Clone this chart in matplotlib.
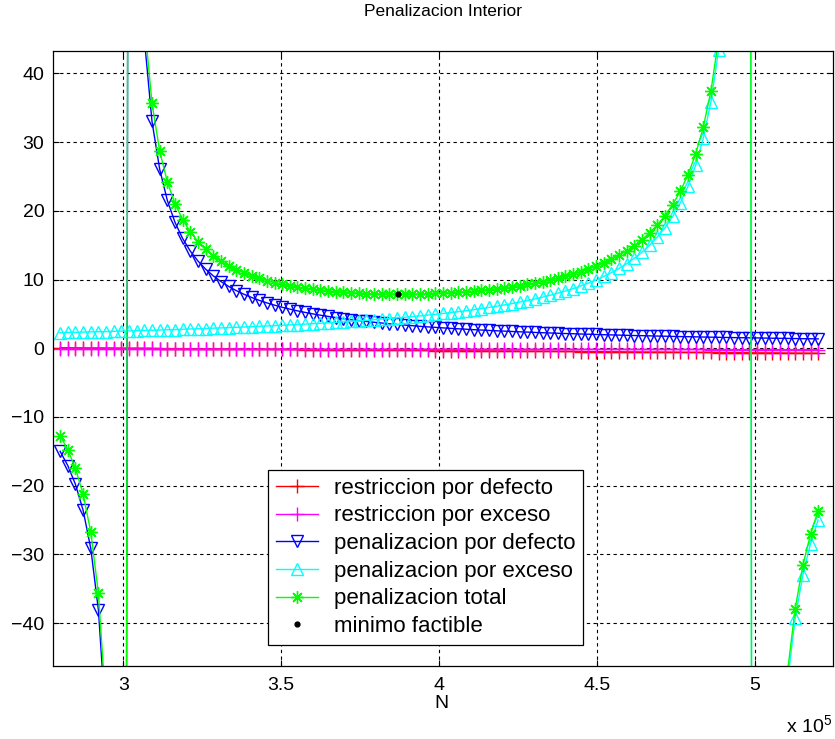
import matplotlib
matplotlib.use("Agg")
import matplotlib.pyplot as plt

plt.rcParams['font.family'] = ['Liberation Sans', 'DejaVu Sans']
plt.rcParams['mathtext.fontset'] = 'custom'
plt.rcParams['mathtext.rm'] = 'Liberation Sans'
plt.rcParams['mathtext.it'] = 'Liberation Sans'

# N in units of 1e5
N = [2.8000, 2.8242, 2.8485, 2.8727, 2.8970, 2.9212, 2.9455, 2.9697, 2.9939, 3.0182,
     3.0424, 3.0667, 3.0909, 3.1152, 3.1394, 3.1636, 3.1879, 3.2121, 3.2364, 3.2606,
     3.2848, 3.3091, 3.3333, 3.3576, 3.3818, 3.4061, 3.4303, 3.4545, 3.4788, 3.5030,
     3.5273, 3.5515, 3.5758, 3.6000, 3.6242, 3.6485, 3.6727, 3.6970, 3.7212, 3.7455,
     3.7697, 3.7939, 3.8182, 3.8424, 3.8667, 3.8909, 3.9152, 3.9394, 3.9636, 3.9879,
     4.0121, 4.0364, 4.0606, 4.0848, 4.1091, 4.1333, 4.1576, 4.1818, 4.2061, 4.2303,
     4.2545, 4.2788, 4.3030, 4.3273, 4.3515, 4.3758, 4.4000, 4.4242, 4.4485, 4.4727,
     4.4970, 4.5212, 4.5455, 4.5697, 4.5939, 4.6182, 4.6424, 4.6667, 4.6909, 4.7152,
     4.7394, 4.7636, 4.7879, 4.8121, 4.8364, 4.8606, 4.8848, 4.9091, 4.9333, 4.9576,
     4.9818, 5.0061, 5.0303, 5.0545, 5.0788, 5.1030, 5.1273, 5.1515, 5.1758, 5.2000]

restr_defecto = [0.07, 0.06, 0.05, 0.04, 0.03, 0.03, 0.02, 0.01, 0.00, -0.01,
                 -0.01, -0.02, -0.03, -0.04, -0.05, -0.05, -0.06, -0.07, -0.08, -0.09,
                 -0.09, -0.10, -0.11, -0.12, -0.13, -0.14, -0.14, -0.15, -0.16, -0.17,
                 -0.18, -0.18, -0.19, -0.20, -0.21, -0.22, -0.22, -0.23, -0.24, -0.25,
                 -0.26, -0.26, -0.27, -0.28, -0.29, -0.30, -0.31, -0.31, -0.32, -0.33,
                 -0.34, -0.35, -0.35, -0.36, -0.37, -0.38, -0.39, -0.39, -0.40, -0.41,
                 -0.42, -0.43, -0.43, -0.44, -0.45, -0.46, -0.47, -0.47, -0.48, -0.49,
                 -0.50, -0.51, -0.52, -0.52, -0.53, -0.54, -0.55, -0.56, -0.56, -0.57,
                 -0.58, -0.59, -0.60, -0.60, -0.61, -0.62, -0.63, -0.64, -0.64, -0.65,
                 -0.66, -0.67, -0.68, -0.68, -0.69, -0.70, -0.71, -0.72, -0.73, -0.73]

restr_exceso = [-0.10, -0.10, -0.10, -0.10, -0.10, -0.11, -0.11, -0.11, -0.11, -0.11,
                -0.11, -0.11, -0.11, -0.11, -0.11, -0.12, -0.12, -0.12, -0.12, -0.12,
                -0.12, -0.12, -0.12, -0.12, -0.12, -0.13, -0.13, -0.13, -0.13, -0.13,
                -0.13, -0.13, -0.13, -0.13, -0.13, -0.14, -0.14, -0.14, -0.14, -0.14,
                -0.14, -0.14, -0.14, -0.14, -0.14, -0.15, -0.15, -0.15, -0.15, -0.15,
                -0.15, -0.15, -0.15, -0.15, -0.15, -0.16, -0.16, -0.16, -0.16, -0.16,
                -0.16, -0.16, -0.16, -0.16, -0.16, -0.17, -0.17, -0.17, -0.17, -0.17,
                -0.17, -0.17, -0.17, -0.17, -0.17, -0.18, -0.18, -0.18, -0.18, -0.18,
                -0.18, -0.18, -0.18, -0.18, -0.18, -0.19, -0.19, -0.19, -0.19, -0.19,
                -0.19, -0.19, -0.19, -0.19, -0.19, -0.20, -0.20, -0.20, -0.20, -0.20]

pen_defecto = [-15.00, -17.07, -19.80, -23.57, -29.12, -38.08, -55.00, -99.0, -495.0, 165.0,
               70.72, 45.00, 33.00, 26.05, 21.52, 18.33, 15.97, 14.14, 12.69, 11.51,
               10.53, 9.71, 9.00, 8.39, 7.86, 7.39, 6.97, 6.60, 6.27, 5.96,
               5.69, 5.44, 5.21, 5.00, 4.81, 4.63, 4.46, 4.30, 4.16, 4.02,
               3.90, 3.78, 3.67, 3.56, 3.46, 3.37, 3.28, 3.19, 3.11, 3.04,
               2.96, 2.89, 2.83, 2.77, 2.70, 2.65, 2.59, 2.54, 2.49, 2.44,
               2.39, 2.35, 2.30, 2.26, 2.22, 2.18, 2.14, 2.11, 2.07, 2.04,
               2.00, 1.97, 1.94, 1.91, 1.88, 1.85, 1.83, 1.80, 1.77, 1.75,
               1.72, 1.70, 1.68, 1.66, 1.63, 1.61, 1.59, 1.57, 1.55, 1.53,
               1.51, 1.50, 1.48, 1.46, 1.44, 1.43, 1.41, 1.39, 1.38, 1.36]

pen_exceso = [2.27, 2.30, 2.32, 2.35, 2.38, 2.41, 2.43, 2.46, 2.49, 2.52,
              2.55, 2.59, 2.62, 2.65, 2.69, 2.72, 2.76, 2.80, 2.84, 2.87,
              2.92, 2.96, 3.00, 3.04, 3.09, 3.14, 3.19, 3.24, 3.29, 3.34,
              3.40, 3.45, 3.51, 3.57, 3.63, 3.70, 3.77, 3.84, 3.91, 3.99,
              4.06, 4.15, 4.23, 4.32, 4.41, 4.51, 4.61, 4.71, 4.82, 4.94,
              5.06, 5.19, 5.32, 5.46, 5.61, 5.77, 5.94, 6.11, 6.30, 6.50,
              6.71, 6.93, 7.17, 7.43, 7.71, 8.01, 8.33, 8.68, 9.07, 9.48,
              9.94, 10.44, 11.00, 11.62, 12.31, 13.10, 13.98, 15.00, 16.18, 17.55,
              19.19, 21.15, 23.57, 26.61, 30.56, 35.87, 43.42, 55.00, 75.00, 117.9,
              275.0, -825.0, -165.0, -91.7, -63.46, -48.53, -39.29, -33.00, -28.45, -25.00]

pen_total = [-12.73, -14.77, -17.48, -21.22, -26.74, -35.67, -52.57, -96.54, -492.51, 167.52,
             73.27, 47.59, 35.62, 28.70, 24.21, 21.05, 18.73, 16.94, 15.53, 14.38,
             13.45, 12.67, 12.00, 11.43, 10.95, 10.53, 10.16, 9.84, 9.56, 9.30,
             9.09, 8.89, 8.72, 8.57, 8.44, 8.33, 8.23, 8.14, 8.07, 8.01,
             7.96, 7.93, 7.90, 7.88, 7.87, 7.88, 7.89, 7.90, 7.93, 7.98,
             8.02, 8.08, 8.15, 8.23, 8.31, 8.42, 8.53, 8.65, 8.79, 8.94,
             9.10, 9.28, 9.47, 9.69, 9.93, 10.19, 10.47, 10.79, 11.14, 11.52,
             11.94, 12.41, 12.94, 13.53, 14.19, 14.95, 15.81, 16.80, 17.95, 19.30,
             20.91, 22.85, 25.25, 28.27, 32.19, 37.48, 45.01, 56.57, 76.55, 119.43,
             276.51, -823.50, -163.52, -90.24, -62.02, -47.10, -37.88, -31.61, -27.07, -23.64]

N_min = [3.87]
pen_min = [7.9]

x_ticks = [3, 3.5, 4, 4.5, 5]
x_labels = ['3', '3.5', '4', '4.5', '5']
y_ticks = [-40, -30, -20, -10, 0, 10, 20, 30, 40]

W, H = 835, 739
fig = plt.figure(figsize=(W / 100, H / 100), dpi=100)
ax = fig.add_axes([52.7 / W, 1 - 665.7 / H, (833 - 52.7) / W, (665.7 - 50.7) / H])

lw = 1.0
ax.plot(N, restr_defecto, color='#FF0000', lw=lw, marker='+', ms=10, mew=1.0,
        label='restriccion por defecto')
ax.plot(N, restr_exceso, color='#FF00FF', lw=lw, marker='+', ms=10, mew=1.0,
        label='restriccion por exceso')
ax.plot(N, pen_defecto, color='#0000FF', lw=lw, marker='v', ms=8, mew=1.0,
        mfc='none', label='penalizacion por defecto')
ax.plot(N, pen_exceso, color='#00FFFF', lw=lw, marker='^', ms=8, mew=1.0,
        mfc='none', label='penalizacion por exceso')
ax.plot(N, pen_total, color='#00FF00', lw=lw, marker=(8, 2, 0), ms=9, mew=1.0,
        label='penalizacion total')
ax.plot(N_min, pen_min, color='black', lw=0, marker='.', ms=7,
        label='minimo factible')

ax.set_xlim(2.7765, 5.247)
ax.set_ylim(-46.2, 43.3)
ax.set_xticks(x_ticks)
ax.set_xticklabels(x_labels)
ax.set_yticks(y_ticks)
ax.grid(True, color='black', linestyle=(0, (3, 3)), linewidth=0.8)
ax.tick_params(direction='in', top=True, right=True, length=4, width=0.8,
               labelsize=14, pad=6)
ax.tick_params(axis='x', pad=8)
for s in ax.spines.values():
    s.set_linewidth(0.9)

leg = ax.legend(loc='upper left', bbox_to_anchor=(268 / W, 1 - 470 / H),
                bbox_transform=fig.transFigure, borderaxespad=0, fontsize=16,
                frameon=True, fancybox=False, framealpha=1, edgecolor='black',
                numpoints=1, handlelength=1.9, handletextpad=0.7,
                labelspacing=0.3, borderpad=0.35)
leg.get_frame().set_linewidth(0.9)

fig.text(443 / W, 1 - 12 / H, 'Penalizacion Interior', ha='center', va='center',
         fontsize=12.5)
fig.text(441 / W, 1 - 704 / H, 'N', ha='center', va='center', fontsize=14)
fig.text(832 / W, 1 - 736 / H, r'x 10$^{5}$', ha='right', va='bottom', fontsize=14)

fig.savefig('out.png', dpi=100)
